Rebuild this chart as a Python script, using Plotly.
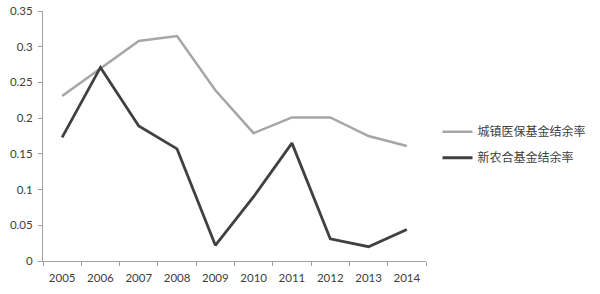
import plotly.graph_objects as go

years = ["2005", "2006", "2007", "2008", "2009", "2010", "2011", "2012", "2013", "2014"]
urban = [0.231, 0.270, 0.308, 0.315, 0.239, 0.179, 0.201, 0.201, 0.175, 0.161]
rural = [0.173, 0.271, 0.189, 0.157, 0.022, 0.090, 0.165, 0.031, 0.020, 0.044]
series_names = ["城镇医保基金结余率", "新农合基金结余率"]
y_ticks = [0, 0.05, 0.1, 0.15, 0.2, 0.25, 0.3, 0.35]
y_ticktext = ["0", "0.05", "0.1", "0.15", "0.2", "0.25", "0.3", "0.35"]

fig = go.Figure()
fig.add_trace(go.Scatter(x=years, y=urban, mode="lines", name=series_names[0],
                         legendgroup="a",
                         line=dict(color="#a6a6a6", width=2.5)))
fig.add_trace(go.Scatter(x=years, y=rural, mode="lines", name=series_names[1],
                         legendgroup="b",
                         line=dict(color="#404040", width=2.8)))

axis_font = dict(family="Lato, 'Noto Sans CJK SC', sans-serif", size=11.5, color="#404040")
fig.update_layout(
    width=600, height=294,
    margin=dict(l=43, r=174, t=11, b=33, autoexpand=False),
    paper_bgcolor="white", plot_bgcolor="white",
    font=axis_font,
    showlegend=True,
    legend=dict(x=1.03, y=0.465, xanchor="left", yanchor="middle",
                font=dict(family="'Noto Sans CJK SC', sans-serif", size=12, color="#404040"),
                tracegroupgap=7, itemwidth=30, bgcolor="rgba(0,0,0,0)"),
    xaxis=dict(type="category", range=[-0.5, 9.5], showline=True, linecolor="#a0a0a0", linewidth=1,
               ticks="outside", tickson="boundaries", ticklen=4, tickcolor="#a0a0a0",
               ticklabelstandoff=6, automargin=False,
               showgrid=False, zeroline=False, tickfont=axis_font),
    yaxis=dict(range=[0, 0.35], tickvals=y_ticks, ticktext=y_ticktext,
               showline=True, linecolor="#a0a0a0", linewidth=1,
               ticks="outside", ticklen=4, tickcolor="#a0a0a0",
               ticklabelstandoff=3, automargin=False,
               showgrid=False, zeroline=False, tickfont=axis_font),
)

fig.write_html("out.html")
